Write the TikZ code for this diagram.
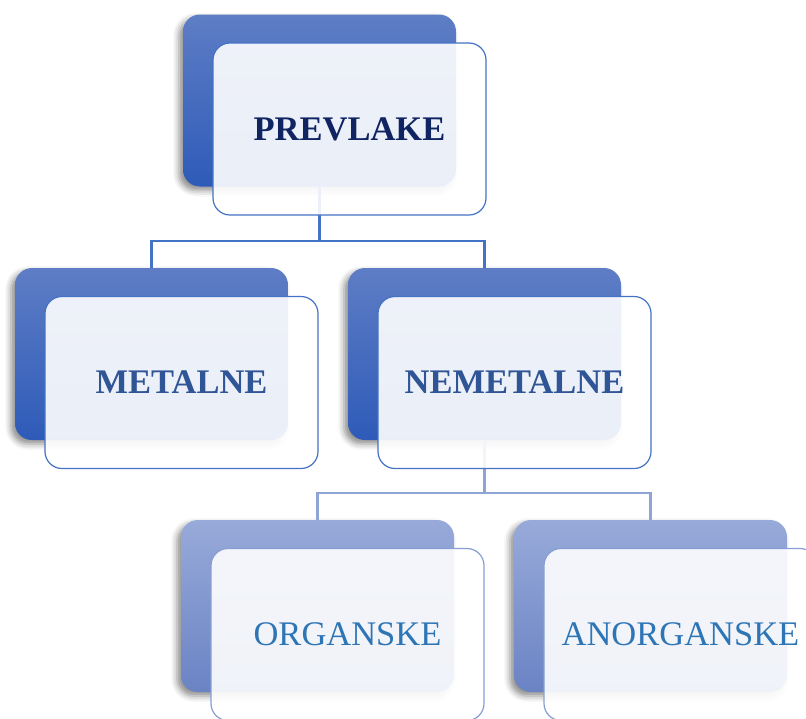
\documentclass[tikz,border=0pt]{standalone}
\usepackage{fontspec}
\setmainfont{Liberation Serif}
\usetikzlibrary{shadows.blur}
\definecolor{backAtop}{RGB}{94,125,197}
\definecolor{backAbot}{RGB}{46,91,184}
\definecolor{backBtop}{RGB}{152,170,217}
\definecolor{backBbot}{RGB}{106,131,196}
\definecolor{lineA}{HTML}{4472C4}
\definecolor{lineB}{HTML}{8EA3D6}
\definecolor{txtA}{HTML}{0F2461}
\definecolor{txtB}{HTML}{2F5597}
\definecolor{txtC}{HTML}{2E75B6}
\tikzset{
  backbox/.style={minimum width=273pt, minimum height=172pt, inner sep=0pt,
    rounded corners=17pt, blur shadow={shadow xshift=-4pt, shadow yshift=-4pt, shadow blur radius=6pt, shadow opacity=45}},
  backA/.style={backbox, top color=backAtop, bottom color=backAbot},
  backB/.style={backbox, top color=backBtop, bottom color=backBbot},
  frontbox/.style={minimum width=273pt, minimum height=172pt, inner sep=0pt,
    rounded corners=17pt, fill=white, fill opacity=0.9, text opacity=1, line width=1.2pt,
    font=\fontsize{34.5}{40}\selectfont},
  frontA/.style={frontbox, draw=lineA},
  frontB/.style={frontbox, draw=lineB!90!lineA},
  connA/.style={draw=lineA, line width=2.4pt},
  connB/.style={draw=lineB, line width=2.4pt},
}
\begin{document}
\begin{tikzpicture}[x=1pt, y=-1pt]
\useasboundingbox (0,0) rectangle (806,718);
% back boxes
\node[backA] (b1) at (319.5,100.5) {};
\node[backA] (b2) at (151.5,354) {};
\node[backA] (b3) at (484.5,354) {};
\node[backB] (b4) at (317.5,606) {};
\node[backB] (b5) at (650.5,606) {};
% connectors
\coordinate (j1) at (319.5,241);
\coordinate (j2) at (484.5,493);
\draw[connA] (b1.south) -- (j1);
\draw[connA] (b2.north) |- (j1) -| (b3.north);
\draw[connB] (b3.south) -- (j2);
\draw[connB] (b4.north) |- (j2) -| (b5.north);
% front boxes
\node[frontA, text=txtA] (f1) at (349.5,129) {\bfseries PREVLAKE};
\node[frontA, text=txtB] (f2) at (181.5,382.5) {\bfseries METALNE};
\node[frontA, text=txtB] (f3) at (514.5,382.5) {\bfseries NEMETALNE};
\node[frontB, text=txtC] (f4) at (347.5,634.5) {ORGANSKE};
\node[frontB, text=txtC] (f5) at (680.5,634.5) {ANORGANSKE};
\end{tikzpicture}
\end{document}
